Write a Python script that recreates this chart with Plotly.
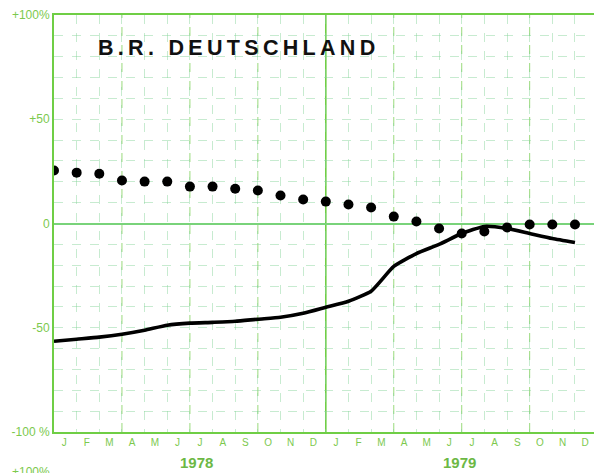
import plotly.graph_objects as go

# months Jan 1978 .. Dec 1979
months = list(range(24))
month_letters = ["J", "F", "M", "A", "M", "J", "J", "A", "S", "O", "N", "D"] * 2
years = ["1978", "1979"]

# dotted series (% change)
dots = [25.4, 24.4, 23.9, 20.6, 20.1, 20.1, 17.7, 17.7, 16.7, 15.8, 13.4, 11.5,
        10.5, 9.1, 7.7, 3.3, 1.0, -2.4, -4.8, -3.8, -1.9, -0.5, -0.5, -0.5]
# solid series (% change)
line = [-56.5, -55.5, -54.5, -53.1, -51.2, -48.8, -47.8, -47.4, -46.9, -45.9, -45.0, -43.1,
        -40.2, -37.3, -32.5, -20.6, -14.4, -10.0, -4.8, -1.4, -2.4, -4.8, -7.2, -9.1]

y_ticks = [-100, -50, 0, 50, 100]
y_text = ["-100 %", "-50", "0", "+50", "+100%"]

GREEN = "#7cc94e"
GRID = "rgba(130,210,150,0.45)"
TITLE = "B.R. DEUTSCHLAND"

fig = go.Figure()
fig.add_trace(go.Scatter(x=months, y=line, mode="lines",
                         line=dict(color="black", width=3.6, shape="spline", smoothing=0.5)))
fig.add_trace(go.Scatter(x=months, y=dots, mode="markers",
                         marker=dict(color="black", size=10)))

# quarter lines and year boundary
for m in range(3, 24, 3):
    fig.add_shape(type="line", x0=m, x1=m, y0=-100, y1=100, xref="x", yref="y",
                  line=dict(color="rgba(120,205,80,0.75)" if m != 12 else "#6fce45",
                            width=1 if m != 12 else 1.6, dash="dash" if m != 12 else "solid"),
                  layer="below")

for i, yr in enumerate(years):
    fig.add_annotation(x=6.3 + 11.6 * i, y=-0.074, xref="x", yref="paper", yanchor="middle",
                       text="<b>" + yr + "</b>", showarrow=False,
                       font=dict(family="Liberation Sans", size=15, color="#6cb845"))

# title, letters spread with thin spaces
fig.add_annotation(x=(96 - 54) / 540, y=(432 - 48) / 417, xref="paper", yref="paper",
                   xanchor="left", yanchor="middle",
                   text="<b>" + "\u2009".join(TITLE) + "</b>", showarrow=False,
                   font=dict(family="Liberation Sans", size=21.5, color="#111"))

# label of the next chart, cut by the page edge
fig.add_annotation(x=-0.003, y=-0.095, xref="paper", yref="paper", xanchor="right",
                   yanchor="middle", text="+100%", showarrow=False,
                   font=dict(family="Liberation Sans", size=12, color=GREEN))

fig.update_layout(
    width=594, height=473,
    margin=dict(l=54, r=0, t=15, b=41),
    paper_bgcolor="white", plot_bgcolor="white",
    showlegend=False,
    xaxis=dict(range=[0, 23.84], tickvals=[m + 0.45 for m in months], ticktext=month_letters,
               showgrid=False, zeroline=False, ticks="", automargin=False,
               showline=True, linecolor="#6fce45", linewidth=2, mirror=True,
               tickfont=dict(family="Liberation Sans", size=10, color=GREEN),
               minor=dict(tickvals=months, showgrid=True, gridcolor=GRID,
                          griddash="dash", gridwidth=1)),
    yaxis=dict(range=[-100, 100], tickvals=y_ticks, ticktext=y_text, automargin=False,
               showgrid=False, zeroline=True, zerolinecolor="#79d37a", zerolinewidth=1.6,
               ticks="", showline=True, linecolor="#6fce45", linewidth=2,
               tickfont=dict(family="Liberation Sans", size=12, color=GREEN),
               minor=dict(dtick=10, tick0=0, showgrid=True, gridcolor=GRID,
                          griddash="dash", gridwidth=1)),
)

fig.write_html("out.html", config={"displayModeBar": False},
               post_script="document.body.style.margin='0';")
